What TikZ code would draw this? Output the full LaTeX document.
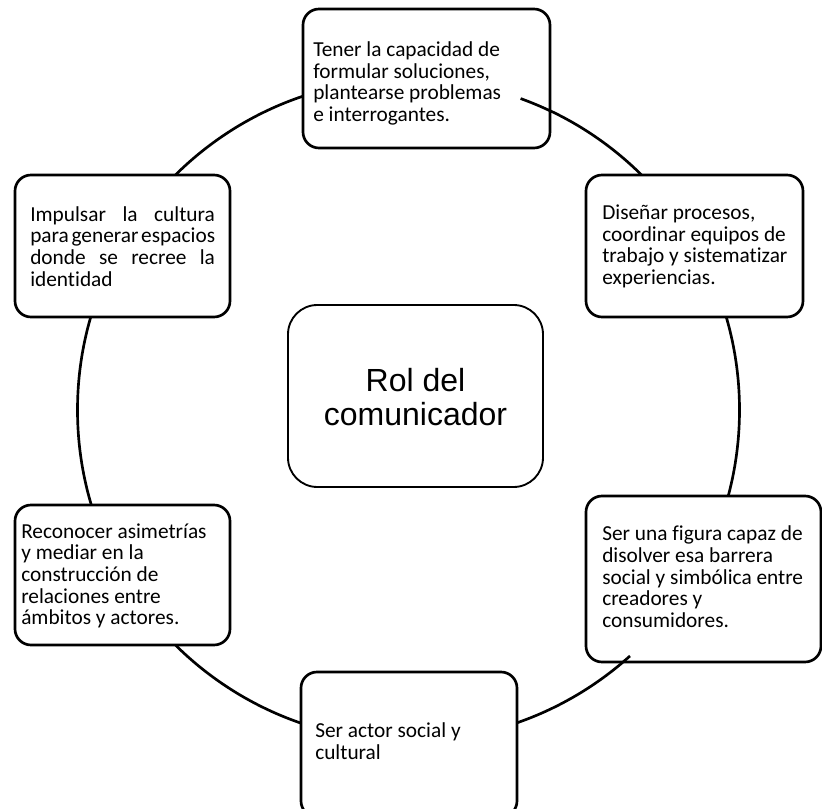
\documentclass[tikz,border=0pt]{standalone}
\usepackage{fontspec}
\setmainfont{Carlito}[Ligatures=NoCommon]
\newfontfamily\rolfont{Liberation Sans}
\newcommand{\jline}[1]{\hbox to 138.5pt{#1}}
\newcommand{\jgap}{\hskip 2pt plus 1fill\relax}

\begin{document}
\begin{tikzpicture}[x=0.75pt,y=0.75pt,yscale=-1,xscale=1,
  ring/.style={line width=2pt},
  rolebox/.style={draw, line width=2pt, fill=white, rounded corners=12pt},
  rolebox text/.style={font=\fontsize{16}{16.25}\selectfont, align=left, anchor=west, inner sep=0pt},
  centerbox/.style={draw, line width=1.4pt, fill=white, rounded corners=22pt}]
\useasboundingbox (0,0) rectangle (822,809);
\clip (0,0) rectangle (822,809);

%Shape: Circle [id:ring]
\coordinate (ctr) at (408.5,410);
\draw [ring] (ctr) circle (331);


%Shape: Rounded Rect [id:top]
\draw [rolebox] (303,9) rectangle (550,148);
%Text Node
\node [rolebox text] (formular) at (313,83.5) {Tener la capacidad de\\formular soluciones,\\plantearse problemas\\e interrogantes.};

%Shape: Rounded Rect [id:right upper]
\draw [rolebox] (586,175) rectangle (803,317);
%Text Node
\node [rolebox text] (disenar) at (602,246.5) {Diseñar procesos,\\coordinar equipos de\\trabajo y sistematizar\\experiencias.};

%Shape: Rounded Rect [id:right lower]
\draw [rolebox] (586,496) rectangle (821,662);
%Text Node
\node [rolebox text] (disolver) at (602,577) {Ser una figura capaz de\\disolver esa barrera\\social y simbólica entre\\creadores y\\consumidores.};

%Shape: Rounded Rect [id:bottom]
\draw [rolebox] (301,672) rectangle (517,817);
%Text Node
\node [rolebox text] (actor) at (315,741) {Ser actor social y\\cultural};

%Shape: Rounded Rect [id:left lower]
\draw [rolebox] (15,505) rectangle (230,645);
%Text Node
\node [rolebox text] (mediar) at (21,576) {Reconocer asimetrías\\y mediar en la\\construcción de\\relaciones entre\\ámbitos y actores.};

%Shape: Rounded Rect [id:left upper]
\draw [rolebox] (15,175) rectangle (230,317);
%Text Node
\node [rolebox text] (impulsar) at (30,246.5) {\jline{Impulsar\jgap la\jgap cultura}\\\jline{para\jgap generar\jgap espacios}\\\jline{donde\jgap se\jgap recree\jgap la}\\identidad};


%Arc pieces over the boxes
\draw [ring] ([shift={(-70.2:331)}]ctr) arc (-70.2:-64.7:331);
\draw [ring] ([shift={(48:331)}]ctr) arc (48:49.6:331);


%Shape: Rounded Rect [id:center]
\draw [centerbox] (288,305) rectangle (543,487);
%Text Node
\node [font=\rolfont\fontsize{24}{25.75}\selectfont, align=center, inner sep=0pt] (rol) at (415.5,397) {Rol del\\comunicador};

\end{tikzpicture}
\end{document}
